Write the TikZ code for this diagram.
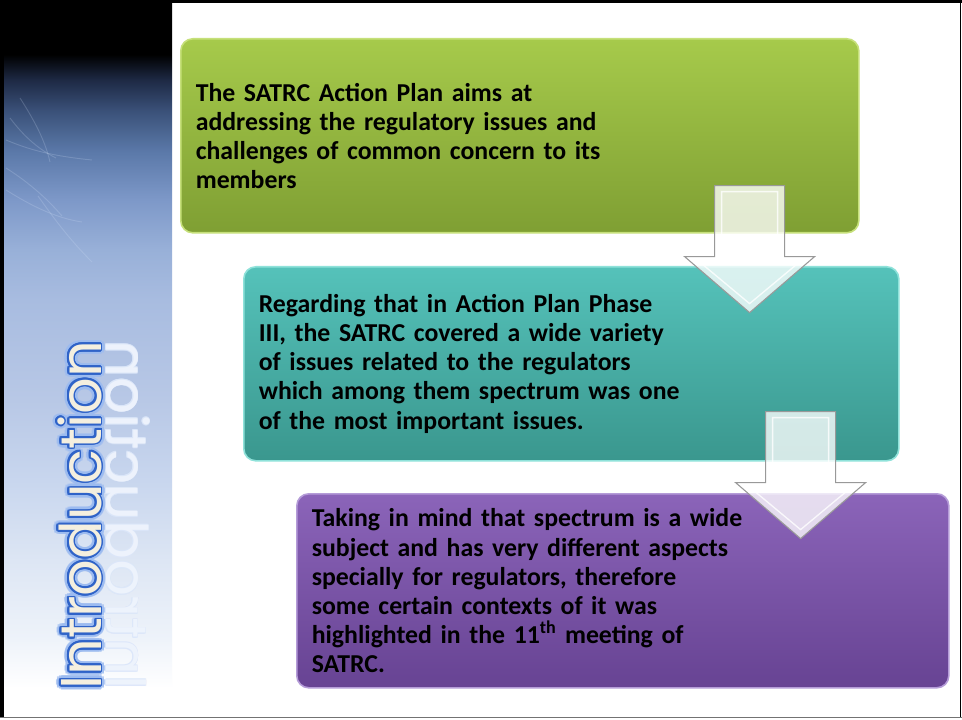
\documentclass[tikz,border=0pt]{standalone}
\usepackage{fontspec}
\setmainfont{Carlito}
\newfontfamily\introfont{Poppins}
\usepackage{contour}
\usetikzlibrary{calc,positioning}

\def\pxu{0.7484pt}
\definecolor{planTop}{HTML}{A6CA4B}
\definecolor{planBot}{HTML}{7F9F33}
\definecolor{planEdge}{HTML}{C6E07A}
\definecolor{phaseTop}{HTML}{55C2BA}
\definecolor{phaseBot}{HTML}{3A978E}
\definecolor{phaseEdge}{HTML}{8FE2DA}
\definecolor{meetTop}{HTML}{8B64B9}
\definecolor{meetBot}{HTML}{674393}
\definecolor{meetEdge}{HTML}{B59CD8}
\definecolor{introFill}{HTML}{F4EFDF}
\definecolor{introLine}{HTML}{2F63C8}
\definecolor{introGlow}{HTML}{9CBBF0}
\definecolor{sky0}{HTML}{000000}
\definecolor{sky1}{HTML}{1E2A45}
\definecolor{sky2}{HTML}{3A5078}
\definecolor{sky3}{HTML}{5A78A8}
\definecolor{sky4}{HTML}{7D98C8}
\definecolor{sky5}{HTML}{98B0D8}
\definecolor{sky6}{HTML}{A8BCE0}
\definecolor{sky7}{HTML}{B8C8E6}
\definecolor{sky8}{HTML}{C8D6EE}
\definecolor{sky9}{HTML}{DDE6F4}
\definecolor{sky10}{HTML}{EEF3FA}

% sky of the side panel, 25bp = bottom edge, 75bp = top edge
\pgfdeclareverticalshading{panelsky}{100bp}{color(0bp)=(white); color(27bp)=(white);
  color(30.4bp)=(sky10); color(35.9bp)=(sky9); color(41.5bp)=(sky8); color(47.1bp)=(sky7);
  color(54.1bp)=(sky6); color(57.6bp)=(sky5); color(61.1bp)=(sky4); color(64.5bp)=(sky3);
  color(67.3bp)=(sky2); color(69.4bp)=(sky1); color(71.2bp)=(sky0); color(100bp)=(sky0)}

\tikzset{
  stagebox/.style={draw=#1Edge, line width=1.2pt, rounded corners=9pt,
    top color=#1Top, bottom color=#1Bot, anchor=north west, align=left,
    inner xsep=15*\pxu, minimum height=194*\pxu,
    font=\bfseries\fontsize{19.3}{21.8}\selectfont},
  arrowbody/.style={fill=white, fill opacity=.78, draw=black!40, line width=.8pt, line join=miter},
  arrowbevel/.style={draw=white, line width=1pt, opacity=.8, line join=miter},
  introword/.style={anchor=base west, inner sep=0pt, font=\introfont\fontsize{43}{43}\selectfont},
  downarrow/.pic={
    \path[arrowbody] (-35,0) -- (35,0) -- (35,71) -- (65,71) -- (0,127) -- (-65,71) -- (-35,71) -- cycle;
    \path[arrowbevel] (-28,6) -- (28,6) -- (28,78) -- (48,78) -- (0,118) -- (-48,78) -- (-28,78) -- cycle;
  }
}

\begin{document}
\begin{tikzpicture}[x=\pxu, y=-\pxu]
\useasboundingbox (0,0) rectangle (962,720);
\fill[white] (0,0) rectangle (962,720);

% side panel
\shade[shading=panelsky] (4,0) rectangle (172,717);
\begin{scope}[introGlow!40!white, line width=.7pt, opacity=.2]
\draw (6,190) .. controls (30,205) and (55,218) .. (82,222);
\draw (6,168) .. controls (25,180) and (45,196) .. (62,216);
\draw (10,118) .. controls (25,138) and (40,150) .. (56,158);
\draw (20,98) .. controls (34,120) and (45,140) .. (50,162);
\draw (6,140) .. controls (30,150) and (52,156) .. (92,160);
\draw (38,196) .. controls (55,220) and (70,240) .. (92,262);
\end{scope}

% vertical title with its reflection
\begin{scope}[shift={(106,690)}]
\node[introword, rotate=90, yscale=-1, text=white, opacity=.5,
  font=\introfont\fontsize{43}{43}\selectfont\contourlength{.6pt}] (echo) at (0,0)
  {\contour{introGlow!35!white}{Introduction}};
\end{scope}
\begin{scope}[shift={(101,690)}]
\node[introword, rotate=90, text=introGlow, opacity=.7,
  font=\introfont\fontsize{43}{43}\selectfont\contourlength{3.2pt}] (glow) at (0,0)
  {\contour{introGlow}{Introduction}};
\node[introword, rotate=90, text=introFill,
  font=\introfont\fontsize{43}{43}\selectfont\contourlength{1.3pt}] (intro) at (0,0)
  {\contour{introLine}{Introduction}};
\end{scope}

% the three stages
\node[stagebox=plan, minimum width=678*\pxu, text width=648*\pxu] (plan) at (180,38)
  {The SATRC Action Plan aims at\\ addressing the regulatory issues and\\
   challenges of common concern to its\\ members};
\node[stagebox=phase, minimum width=655*\pxu, text width=625*\pxu] (phase) at (243,266)
  {Regarding that in Action Plan Phase\\ III, the SATRC covered a wide variety\\
   of issues related to the regulators\\ which among them spectrum was one\\
   of the most important issues.};
\node[stagebox=meet, minimum width=652*\pxu, text width=622*\pxu] (meet) at (296,493)
  {Taking in mind that spectrum is a wide\\ subject and has very different aspects\\
   specially for regulators, therefore\\ some certain contexts of it was\\
   highlighted in the 11\textsuperscript{th} meeting of\\ SATRC.};

% block arrows between stages
\pic at ($(plan.south east)+(-110,-48)$) {downarrow};
\pic at ($(phase.south east)+(-99,-50)$) {downarrow};

% frame
\fill[black] (0,0) rectangle (4,717);
\draw[black, line width=2pt] (4,1.5) -- (962,1.5);
\draw[black, line width=1.2pt] (960.5,0) -- (960.5,717);
\draw[black!55, line width=1.2pt] (0,717.5) -- (962,717.5);
\end{tikzpicture}
\end{document}
